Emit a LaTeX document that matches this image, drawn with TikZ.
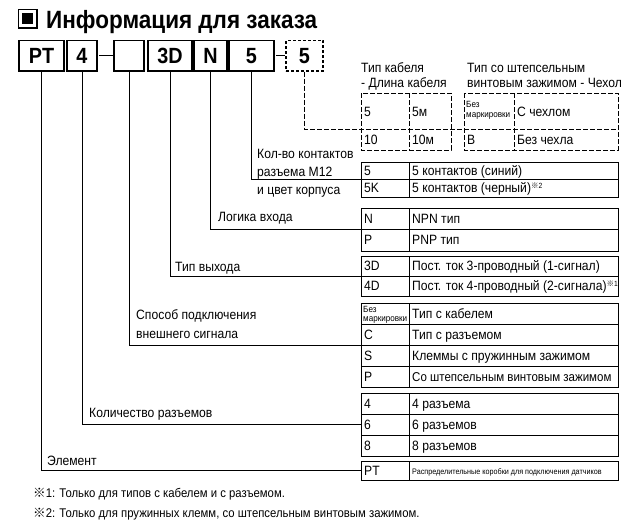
\documentclass[tikz,border=0pt]{standalone}
\usepackage{fontspec}
\setmainfont[FakeStretch=0.9]{Liberation Sans}
\newfontfamily\cjk{Noto Sans CJK JP}
\newcommand\kome{{\cjk ※}}
\newcommand\supk[1]{\raisebox{4pt}{\fontsize{7.5}{8}\selectfont\kome#1}}
\begin{document}
\begin{tikzpicture}[x=1pt,y=-1pt,
  ln/.style={line width=0.8pt},
  dsh/.style={line width=0.8pt, dash pattern=on 5pt off 2pt},
  box/.style={draw, line width=1.2pt, inner sep=0, minimum height=30.5pt, font=\fontsize{22}{22}\bfseries\selectfont},
  tx/.style={anchor=base west, inner sep=0, font=\fontsize{13.5}{14}\selectfont},
  sm/.style={anchor=base west, inner sep=0, font=\fontsize{9}{9}\selectfont},
  fn/.style={anchor=base west, inner sep=0, font=\fontsize{12.6}{13}\selectfont},
]
\useasboundingbox (0,0) rectangle (629,525);
% title
\node[draw, line width=1.2pt, minimum size=18.5pt, inner sep=0] (icon) at (27.75,18.75) {};
\node[fill=black, minimum size=11pt, inner sep=0] (iconin) at (icon.center) {};
\node[anchor=base west, inner sep=0, font=\fontsize{25}{25}\bfseries\selectfont] (title) at (46,28) {Информация для заказа};
% code boxes
\node[box, minimum width=45pt] (bPT) at (41.5,55.75) {PT};
\node[box, minimum width=30pt] (b4) at (82,55.75) {4};
\node[box, minimum width=30pt] (bE) at (129,55.75) {};
\node[box, minimum width=44pt] (b3D) at (170,55.75) {3D};
\node[box, minimum width=33pt] (bN) at (210.5,55.75) {N};
\node[box, minimum width=45pt] (b5) at (251.5,55.75) {5};
\node[box, dash pattern=on 3pt off 2pt, minimum width=37pt] (bD5) at (304.5,55.75) {5};
\draw[line width=1pt] ([xshift=-14pt]bE.west) -- (bE.west);
\draw[line width=1pt] ([xshift=-9pt]bD5.west) -- (bD5.west);
% end points of leaders
\coordinate (eCab) at (618,129);
\coordinate (eM12) at (361,179.5);
\coordinate (eLog) at (361,229);
\coordinate (eOut) at (361,276);
\coordinate (eCon) at (361,345);
\coordinate (eCnt) at (361,424.5);
\coordinate (eEl) at (361,470.5);
\draw[dsh] (bD5.south) |- (eCab);
\draw[ln] (b5.south) |- (eM12);
\draw[ln] (bN.south) |- (eLog);
\draw[ln] (b3D.south) |- (eOut);
\draw[ln] (bE.south) |- (eCon);
\draw[ln] (b4.south) |- (eCnt);
\draw[ln] (bPT.south) |- (eEl);
% cable tables
\draw[dsh] (361,93) rectangle (451,150); \draw[dsh] (409,93) -- (409,150);
\draw[dsh] (464,93) rectangle (618,150); \draw[dsh] (514,93) -- (514,150);
\node[tx] (hCab1) at (361,72.5) {Тип кабеля};
\node[tx] (hCab2) at (361,87.5) {- Длина кабеля};
\node[tx] (hCov1) at (467,72.5) {Тип со штепсельным};
\node[tx] (hCov2) at (467,87.5) {винтовым зажимом - Чехол};
\node[tx] (c5) at (364,116.5) {5};
\node[tx] (c5m) at (412,116.5) {5м};
\node[tx] (c10) at (364,144.5) {10};
\node[tx] (c10m) at (412,144.5) {10м};
\node[sm] (cvA1) at (466,107.5) {Без};
\node[sm] (cvA2) at (466,117.5) {маркировки};
\node[tx] (cvA) at (517,116.5) {С чехлом};
\node[tx] (cvB1) at (467,144.5) {B};
\node[tx] (cvB) at (517,144.5) {Без чехла};
% M12 table
\draw[ln] (361,162) rectangle (618,197); \draw[ln] (409,162) -- (409,197); \draw[ln] (361,179.5) -- (618,179.5);
\node[tx] (lM1) at (257,158.5) {Кол-во контактов};
\node[tx] (lM2) at (257,176.5) {разъема M12};
\node[tx] (lM3) at (257,194.5) {и цвет корпуса};
\node[tx] (m5) at (364,175.5) {5};
\node[tx] (m5t) at (412,175.5) {5 контактов (синий)};
\node[tx] (m5K) at (364,192.5) {5K};
\node[tx] (m5Kt) at (412,192.5) {5 контактов (черный)\supk{2}};
% logic table
\draw[ln] (361,208) rectangle (618,251); \draw[ln] (409,208) -- (409,251); \draw[ln] (361,229) -- (618,229);
\node[tx] (lLog) at (218,221.5) {Логика входа};
\node[tx] (gN) at (364,223) {N};
\node[tx] (gNt) at (412,223) {NPN тип};
\node[tx] (gP) at (364,244.5) {P};
\node[tx] (gPt) at (412,244.5) {PNP тип};
% output table
\draw[ln] (361,256) rectangle (618,296); \draw[ln] (409,256) -- (409,296); \draw[ln] (361,276) -- (618,276);
\node[tx] (lOut) at (175,271.5) {Тип выхода};
\node[tx] (o3) at (364,270.5) {3D};
\node[tx] (o3t) at (412,270.5) {Пост. ток 3-проводный (1-сигнал)};
\node[tx] (o4) at (364,290.5) {4D};
\node[tx] (o4t) at (412,290.5) {Пост. ток 4-проводный (2-сигнала)\supk{1}};
% connection table
\draw[ln] (361,303) rectangle (618,387); \draw[ln] (409,303) -- (409,387);
\draw[ln] (361,324) -- (618,324); \draw[ln] (361,345) -- (618,345); \draw[ln] (361,366) -- (618,366);
\node[tx] (lCon1) at (136,319.5) {Способ подключения};
\node[tx] (lCon2) at (136,338.5) {внешнего сигнала};
\node[sm] (k01) at (363,312) {Без};
\node[sm] (k02) at (363,321.5) {маркировки};
\node[tx] (k0t) at (412,318) {Тип с кабелем};
\node[tx] (kC) at (364,339) {C};
\node[tx] (kCt) at (412,339) {Тип с разъемом};
\node[tx] (kS) at (364,360) {S};
\node[tx] (kSt) at (412,360) {Клеммы с пружинным зажимом};
\node[tx] (kP) at (364,381) {P};
\node[tx, font=\fontsize{12.8}{13}\selectfont] (kPt) at (412,381) {Со штепсельным винтовым зажимом};
% count table
\draw[ln] (361,393) rectangle (618,456); \draw[ln] (409,393) -- (409,456);
\draw[ln] (361,414) -- (618,414); \draw[ln] (361,435) -- (618,435);
\node[tx] (lCnt) at (89,417.5) {Количество разъемов};
\node[tx] (n4) at (364,408) {4};
\node[tx] (n4t) at (412,408) {4 разъема};
\node[tx] (n6) at (364,429) {6};
\node[tx] (n6t) at (412,429) {6 разъемов};
\node[tx] (n8) at (364,450) {8};
\node[tx] (n8t) at (412,450) {8 разъемов};
% element table
\draw[ln] (361,461) rectangle (618,480); \draw[ln] (409,461) -- (409,480);
\node[tx] (lEl) at (47,465.5) {Элемент};
\node[tx] (ePT) at (364,475) {PT};
\node[anchor=base west, inner sep=0, font=\fontsize{8}{8}\selectfont] (ePTt) at (412,474.5) {Распределительные коробки для подключения датчиков};
% footnotes
\node[fn] (f1) at (33,497.5) {\kome1: Только для типов с кабелем и с разъемом.};
\node[fn] (f2) at (33,517.5) {\kome2: Только для пружинных клемм, со штепсельным винтовым зажимом.};
\end{tikzpicture}
\end{document}
